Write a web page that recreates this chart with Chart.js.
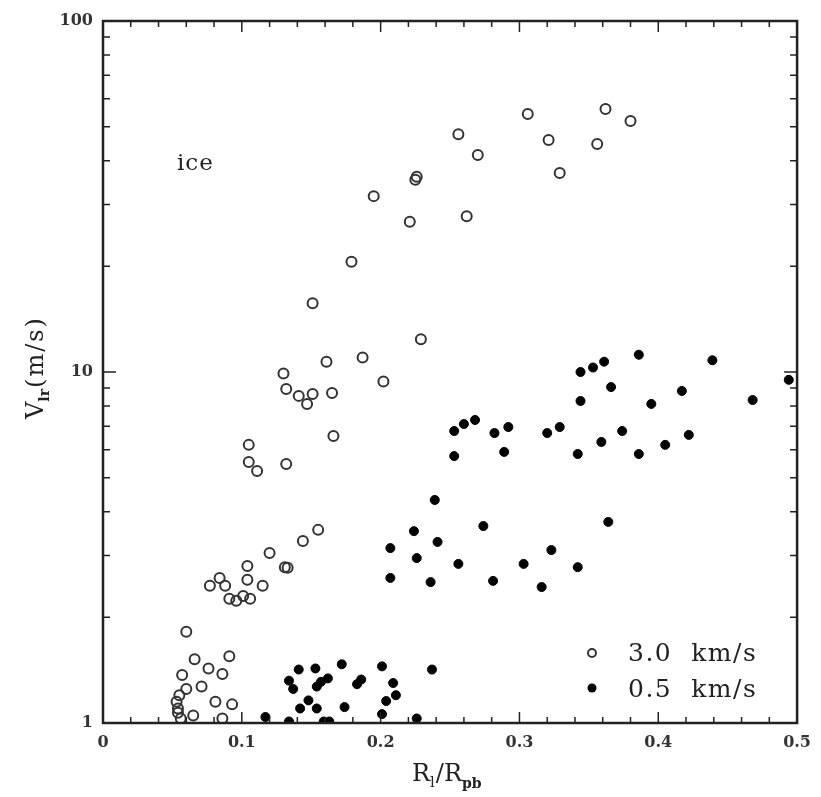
<!DOCTYPE html>
<html>
<head>
<meta charset="utf-8">
<script src="https://cdn.jsdelivr.net/npm/chart.js@4.4.0/dist/chart.umd.min.js"></script>
<style>
  body { margin:0; background:#fff; }
  #wrap { width:821px; height:797px; }
</style>
</head>
<body>
<div id="wrap"><canvas id="vlr_chart" width="821" height="797"></canvas></div>
<script>
// impact speed 3.0 km/s (open circles)
let fastX = [0.225,0.226,0.195,0.221,0.179,0.151,0.229,0.187,0.161,0.130,0.202,
  0.256,0.270,0.262,0.306,0.321,0.329,0.362,0.356,0.380,
  0.132,0.141,0.147,0.151,0.165,0.166,0.105,0.105,0.111,0.132,
  0.155,0.144,0.120,0.131,0.133,0.104,0.104,0.115,0.084,0.077,0.088,0.091,0.096,0.101,0.106,
  0.060,0.066,0.091,0.076,0.086,0.057,0.071,0.060,0.055,0.053,0.081,0.093,0.054,0.054,0.065,0.086,0.056];
let fastY = [35.3,36.0,31.7,26.8,20.6,15.7,12.4,11.0,10.7,9.9,9.4,
  47.6,41.5,27.8,54.3,45.8,36.9,56.1,44.6,51.9,
  8.95,8.55,8.11,8.66,8.71,6.57,6.20,5.54,5.22,5.47,
  3.55,3.30,3.05,2.78,2.77,2.80,2.56,2.46,2.59,2.46,2.46,2.26,2.23,2.30,2.26,
  1.82,1.52,1.55,1.43,1.38,1.37,1.27,1.25,1.20,1.15,1.15,1.13,1.10,1.07,1.05,1.03,1.03];

// impact speed 0.5 km/s (filled circles)
let slowX = [0.344,0.353,0.361,0.386,0.439,0.494,
  0.366,0.417,0.344,0.395,0.468,
  0.253,0.260,0.268,0.282,0.292,0.320,0.329,0.374,0.359,0.405,0.422,
  0.253,0.289,0.342,0.386,
  0.274,0.364,0.323,0.256,0.303,0.342,0.281,0.316,
  0.239,0.224,0.241,0.207,0.226,0.207,0.236,
  0.141,0.153,0.172,0.201,0.237,0.134,0.137,0.154,0.157,0.162,0.183,0.186,0.209,0.211,0.204,
  0.148,0.142,0.154,0.174,0.201,0.117,0.226,0.134,0.159,0.163];
let slowY = [10.0,10.3,10.7,11.2,10.8,9.5,
  9.06,8.83,8.27,8.11,8.32,
  6.79,7.11,7.30,6.70,6.97,6.70,6.97,6.79,6.32,6.20,6.62,
  5.76,5.92,5.84,5.84,
  3.64,3.74,3.11,2.84,2.84,2.78,2.54,2.44,
  4.32,3.52,3.28,3.15,2.95,2.59,2.52,
  1.42,1.43,1.47,1.45,1.42,1.32,1.25,1.27,1.31,1.34,1.29,1.33,1.30,1.20,1.155,
  1.16,1.10,1.10,1.11,1.06,1.04,1.03,1.01,1.01,1.01];

let xTicks = [0, 0.1, 0.2, 0.3, 0.4, 0.5];
let yTicks = [1, 10, 100];
let seriesNames = ["3.0 km/s", "0.5 km/s"];

const serif = "'DejaVu Serif', serif";
const ink = "#222";

function toPoints(xs, ys) {
    let pts = new Array();
    for(let i=0; i<xs.length; i++) {
        pts.push({x:xs[i], y:ys[i]});
    }
    return pts;
}

// inward ticks on all four sides, frame, axis titles, legend, "ice" note
const decorations = {
    id:'decorations',
    afterDraw(chart) {
        const c = chart.ctx;
        const a = chart.chartArea;
        const sx = chart.scales.x, sy = chart.scales.y;
        c.save();
        c.strokeStyle = ink;
        c.lineWidth = 1.5;
        c.beginPath();
        for(let i=0; i<=25; i++) {
            let v = i*0.02;
            let px = sx.getPixelForValue(v);
            let len = (i%5==0) ? 11 : 6;
            c.moveTo(px, a.bottom); c.lineTo(px, a.bottom-len);
            c.moveTo(px, a.top); c.lineTo(px, a.top+len);
        }
        for(let d=1; d<=100; d*=10) {
            for(let m=1; m<10; m++) {
                let v = d*m;
                if (v > 100) break;
                let py = sy.getPixelForValue(v);
                let len = (m==1) ? 13 : 7;
                c.moveTo(a.left, py); c.lineTo(a.left+len, py);
                c.moveTo(a.right, py); c.lineTo(a.right-len, py);
            }
        }
        c.stroke();
        // frame
        c.lineWidth = 2.5;
        c.strokeRect(a.left, a.top, a.right-a.left, a.bottom-a.top);

        c.fillStyle = ink;
        c.textBaseline = 'alphabetic';
        // x title  R_l / R_pb
        let x0 = 412, y0 = 781;
        c.font = "24px " + serif;
        c.textAlign = 'left';
        c.fillText("R", x0, y0);
        let w = c.measureText("R").width;
        c.font = "15px " + serif;
        c.fillText("l", x0+w, y0+6);
        w += c.measureText("l").width + 1;
        c.font = "24px " + serif;
        c.fillText("/R", x0+w, y0);
        w += c.measureText("/R").width;
        c.font = "bold 14px " + serif;
        c.fillText("pb", x0+w, y0+7);

        // y title  V_lr(m/s), rotated
        c.save();
        c.translate(43, 419);
        c.rotate(-Math.PI/2);
        c.font = "24px " + serif;
        c.fillText("V", 0, 0);
        w = c.measureText("V").width;
        c.font = "bold 14px " + serif;
        c.fillText("lr", w, 6);
        w += c.measureText("lr").width + 1;
        c.font = "24px " + serif;
        c.letterSpacing = "2px";
        c.fillText("(m/s)", w, 0);
        c.restore();

        // note
        c.font = "23px " + serif;
        c.letterSpacing = "1px";
        c.fillText("ice", 177, 170);

        // legend
        c.font = "25px " + serif;
        c.letterSpacing = "1.5px";
        c.textBaseline = 'middle';
        c.fillText(seriesNames[0].replace(" ", "  "), 628, 654);
        c.fillText(seriesNames[1].replace(" ", "  "), 628, 690);
        c.lineWidth = 2;
        c.strokeStyle = "#333";
        c.beginPath(); c.arc(592, 653, 4, 0, Math.PI*2); c.stroke();
        c.fillStyle = "#000";
        c.beginPath(); c.arc(592, 688, 4.5, 0, Math.PI*2); c.fill();
        c.restore();
    }
};

let ctx = document.getElementById("vlr_chart");
let vlrChart = new Chart(ctx, {
    type:'scatter',
    plugins:[decorations],
    data:{
        datasets:[{
            label:seriesNames[0],
            data:toPoints(fastX, fastY),
            pointRadius:5,
            pointBorderWidth:2,
            borderColor:'#333',
            backgroundColor:'rgba(255,255,255,0)'
        },{
            label:seriesNames[1],
            data:toPoints(slowX, slowY),
            pointRadius:4.5,
            pointBorderWidth:1,
            borderColor:'#000',
            backgroundColor:'#000'
        }]
    },
    options:{
        responsive:false,
        animation:false,
        events:[],
        layout:{ padding:{ top:21, right:18, left:0, bottom:0 } },
        plugins:{ legend:{display:false}, tooltip:{enabled:false} },
        scales:{
            x:{
                type:'linear',
                min:0, max:0.5,
                afterFit:function(s) { s.height = 74; },
                afterBuildTicks:function(s) { s.ticks = xTicks.map(v => ({value:v})); },
                grid:{ display:false, drawTicks:false },
                border:{ display:false },
                ticks:{
                    padding:10,
                    maxRotation:0,
                    color:'#333',
                    font:{ family:serif, size:16, weight:'bold' },
                    callback:function(v) { return String(v); }
                }
            },
            y:{
                type:'logarithmic',
                min:1, max:100,
                afterFit:function(s) { s.width = 103; },
                afterBuildTicks:function(s) { s.ticks = yTicks.map(v => ({value:v})); },
                grid:{ display:false, drawTicks:false },
                border:{ display:false },
                ticks:{
                    padding:10,
                    color:'#333',
                    font:{ family:serif, size:16, weight:'bold' },
                    callback:function(v) { return String(v); }
                }
            }
        }
    }
});
</script>
</body>
</html>
